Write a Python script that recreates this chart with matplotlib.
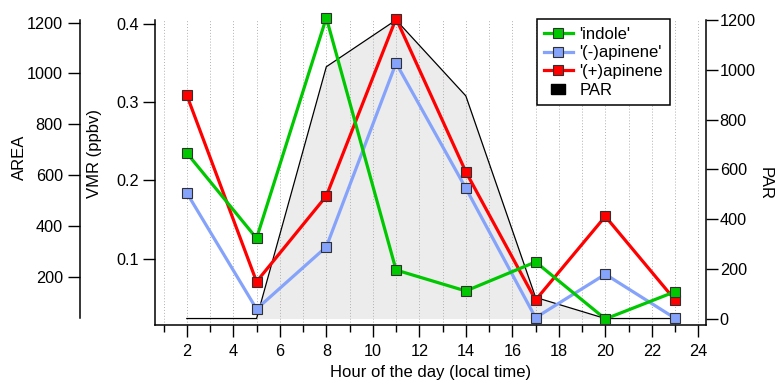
#!/usr/bin/env python3
# -*- coding:utf-8 -*-

import matplotlib
matplotlib.use("Agg")
import matplotlib.pyplot as plt
from matplotlib.lines import Line2D

matplotlib.rc('font', family=['Liberation Sans', 'DejaVu Sans'], size=12)


## Data: sampling hours and measured values
hours = [2, 5, 8, 11, 14, 17, 20, 23]

indole      = [0.235, 0.126, 0.408, 0.0854, 0.0586, 0.0957, 0.0228, 0.0577]
minus_apin  = [0.184, 0.0355, 0.115, 0.350, 0.190, 0.0244, 0.080, 0.0237]
plus_apin   = [0.309, 0.0705, 0.180, 0.407, 0.211, 0.047, 0.154, 0.047]
par         = [0, 0, 1012, 1200, 895, 85, 0, 0]

x_major = list(range(2, 25, 2))
x_minor = list(range(1, 25, 2))
vmr_ticks = [0.1, 0.2, 0.3, 0.4]
par_ticks = list(range(0, 1201, 200))
area_ticks = list(range(200, 1201, 200))

GREEN = "#00c800"
BLUE = "#86a3fb"
RED = "#ff0000"
FILL = "#ececec"

W, H = 777, 385
TICK_FS = 11.7
LABEL_FS = 12


def px_rect(left, top, right, bottom):
    """axes rectangle from pixel coordinates (origin top left)"""
    return [left / W, 1 - bottom / H, (right - left) / W, (bottom - top) / H]


def style_ticks(ax, axis, pad):
    ax.tick_params(axis=axis, which='major', direction='out', length=8.4,
                   width=1.0, pad=pad, labelsize=TICK_FS)
    ax.tick_params(axis=axis, which='minor', direction='out', length=5,
                   width=1.0)


fig = plt.figure(figsize=(W / 100, H / 100), dpi=100)

## PAR host axes (right + bottom), VMR twin on the left
ax_par = fig.add_axes(px_rect(155, 20, 706, 325))
ax_vmr = ax_par.twinx()

ax_par.set_xlim(0.632, 24.33)
ax_par.set_ylim(-26.0, 1196)
ax_vmr.set_ylim(0.01509, 0.40512)

for s in ('top', 'left'):
    ax_par.spines[s].set_visible(False)
for s in ('top', 'right', 'bottom'):
    ax_vmr.spines[s].set_visible(False)
for ax in (ax_par, ax_vmr):
    for s in ax.spines.values():
        s.set_linewidth(1.1)

ax_par.yaxis.tick_right()
ax_par.yaxis.set_label_position('right')
ax_vmr.yaxis.tick_left()
ax_vmr.yaxis.set_label_position('left')

ax_par.set_xticks(x_major)
ax_par.set_xticks(x_minor, minor=True)
ax_par.set_yticks(par_ticks)
ax_vmr.set_yticks(vmr_ticks)
ax_vmr.set_yticklabels(["%.1f" % v for v in vmr_ticks])

style_ticks(ax_par, 'x', 5.5)
style_ticks(ax_par, 'y', 1.5)
style_ticks(ax_vmr, 'y', 3.4)
ax_par.tick_params(axis='y', which='minor', length=0)
ax_vmr.tick_params(axis='y', which='minor', length=0)

## dotted hour grid
ax_par.grid(True, axis='x', which='both', linestyle=(0, (1, 2)),
            color='#b0b0b0', linewidth=0.7)

## PAR: filled to zero
ax_par.fill_between(hours, par, 0, color=FILL, linewidth=0, zorder=1)
ax_par.plot(hours, par, color='black', linewidth=0.9, zorder=2, clip_on=False)

## VMR traces
series = [
    (minus_apin, BLUE, "'(-)apinene'"),
    (plus_apin, RED, "'(+)apinene"),
    (indole, GREEN, "'indole'"),
]
for vals, col, lab in series:
    ax_vmr.plot(hours, vals, color=col, linewidth=2.3, marker='s',
                markersize=6.8, markerfacecolor=col, markeredgecolor='#303030',
                markeredgewidth=0.8, clip_on=False, label=lab)

## free AREA axis on the far left
ax_area = fig.add_axes(px_rect(80, 20, 81, 318))
ax_area.set_ylim(37.4, 1210.6)
ax_area.patch.set_visible(False)
for s in ('top', 'right', 'bottom'):
    ax_area.spines[s].set_visible(False)
ax_area.spines['left'].set_linewidth(1.1)
ax_area.set_xticks([])
ax_area.set_yticks(area_ticks)
style_ticks(ax_area, 'y', 4)

## axis labels
fig.text(19 / W, 1 - 157 / H, "AREA", rotation=90, ha='center', va='center', fontsize=LABEL_FS)
fig.text(95 / W, 1 - 153 / H, "VMR (ppbv)", rotation=90, ha='center', va='center', fontsize=LABEL_FS)
fig.text(765 / W, 1 - 183 / H, "PAR", rotation=-90, ha='center', va='center', fontsize=LABEL_FS)
fig.text(431 / W, 1 - 373 / H, "Hour of the day (local time)", ha='center', va='center', fontsize=LABEL_FS)

## legend
def entry(col, lab):
    return Line2D([], [], color=col, linewidth=2.3, marker='s', markersize=6.8,
                  markerfacecolor=col, markeredgecolor='#303030',
                  markeredgewidth=0.8, label=lab)

box = [(-1.5, -1), (1.5, -1), (1.5, 1), (-1.5, 1), (-1.5, -1)]
handles = [
    entry(GREEN, "'indole'"),
    entry(BLUE, "'(-)apinene'"),
    entry(RED, "'(+)apinene"),
    Line2D([], [], linestyle='none', marker=box, markersize=10.5,
           color='black', label="PAR"),
]
leg = ax_vmr.legend(handles=handles, loc='upper left',
                    bbox_to_anchor=(536.7 / W, 1 - 19.3 / H),
                    bbox_transform=fig.transFigure, borderaxespad=0,
                    fancybox=False, framealpha=1, edgecolor='black',
                    handlelength=1.7, handletextpad=0.4, borderpad=0.45,
                    labelspacing=0.22, fontsize=LABEL_FS)
leg.get_frame().set_linewidth(1.1)

fig.savefig("out.png", dpi=100)
